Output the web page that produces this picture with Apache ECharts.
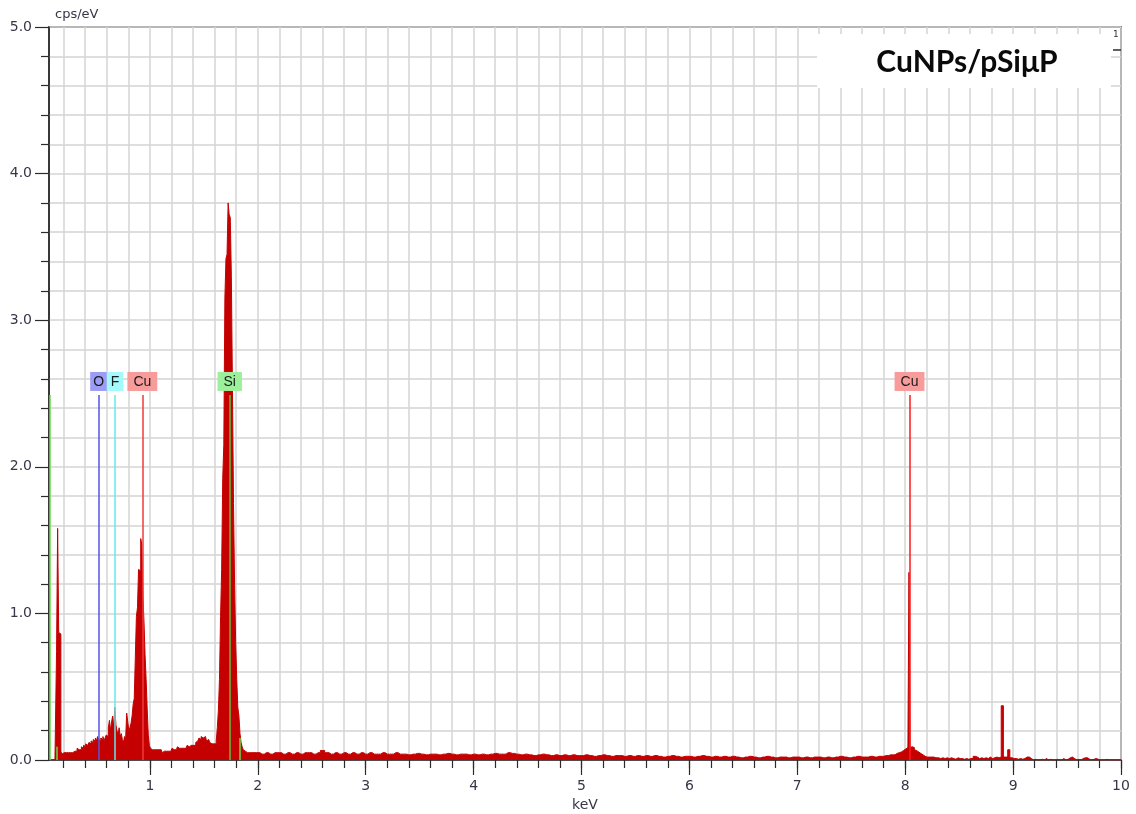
<!DOCTYPE html>
<html><head><meta charset="utf-8">
<script src="https://cdn.jsdelivr.net/npm/echarts@6/dist/echarts.min.js"></script>
<style>html,body{margin:0;padding:0;background:#fff}#c{width:1136px;height:814px}</style>
</head><body><div id="c"></div>
<script>
// ---------------- data (cps/eV per channel) ----------------
const lowStart = 0.10, lowStep = 0.01;   // 0.10 .. 1.99 keV
const lowValues = [
  0,0,0,0,0.74,1.58,0.87,0.86,0.06,0.04,
  0.05,0.06,0.05,0.06,0.05,0.06,0.05,0.04,0.05,0.06,
  0.06,0.07,0.06,0.08,0.07,0.08,0.07,0.09,0.08,0.10,
  0.09,0.11,0.10,0.11,0.12,0.11,0.13,0.12,0.14,0.13,
  0.15,0.13,0.16,0.14,0.13,0.15,0.14,0.16,0.13,0.15,
  0.17,0.16,0.22,0.27,0.20,0.26,0.30,0.22,0.36,0.24,
  0.20,0.17,0.22,0.16,0.18,0.14,0.12,0.16,0.14,0.32,
  0.26,0.20,0.22,0.25,0.30,0.38,0.42,0.70,0.98,1.04,
  1.30,1.29,1.51,1.47,1.12,0.95,0.72,0.55,0.35,0.17,
  0.10,0.08,0.07,0.06,0.07,0.06,0.07,0.06,0.07,0.06,
  0.07,0.06,0.05,0.06,0.07,0.06,0.05,0.06,0.07,0.06,
  0.07,0.08,0.07,0.08,0.07,0.08,0.09,0.08,0.07,0.08,
  0.09,0.08,0.09,0.08,0.09,0.10,0.09,0.08,0.10,0.09,
  0.10,0.11,0.10,0.12,0.13,0.14,0.15,0.14,0.16,0.15,
  0.14,0.16,0.15,0.13,0.14,0.15,0.12,0.11,0.10,0.11,
  0.10,0.11,0.13,0.22,0.34,0.55,0.98,1.30,1.92,2.15,
  3.15,3.42,3.45,3.80,3.72,3.70,3.30,2.55,1.75,1.20,
  0.80,0.55,0.36,0.30,0.18,0.12,0.09,0.07,0.06,0.05,
  0.05,0.04,0.05,0.04,0.05,0.04,0.05,0.04,0.05,0.04
];
const midStart = 2.00, midStep = 0.04;   // 2.00 .. 7.76 keV
const midValues = [
  0.05,0.04,0.05,0.04,0.05,0.05,0.04,0.05,0.04,0.05,0.04,0.05,0.05,0.04,0.05,0.065,0.05,0.04,0.05,0.04,0.05,0.04,0.05,0.04,0.05,
  0.04,0.05,0.04,0.04,0.05,0.04,0.04,0.05,0.04,0.04,0.035,0.04,0.045,0.04,0.035,0.04,0.04,0.035,0.04,0.045,0.04,0.035,0.04,0.04,0.035,
  0.04,0.035,0.04,0.035,0.04,0.045,0.04,0.04,0.05,0.045,0.04,0.035,0.04,0.035,0.03,0.035,0.04,0.035,0.03,0.035,0.03,0.035,0.03,0.035,0.03,
  0.03,0.035,0.03,0.025,0.03,0.035,0.03,0.025,0.03,0.03,0.025,0.03,0.025,0.03,0.025,0.03,0.025,0.03,0.025,0.02,0.025,0.03,0.025,0.02,0.025,
  0.025,0.02,0.025,0.03,0.025,0.02,0.025,0.02,0.025,0.02,0.025,0.02,0.015,0.02,0.025,0.02,0.015,0.02,0.025,0.02,0.015,0.02,0.02,0.015,0.02,
  0.02,0.015,0.02,0.015,0.02,0.02,0.015,0.02,0.015,0.02,0.025,0.02,0.015,0.02,0.025,0.02,0.02,0.025,0.02,0.025
];
const cuKStart = 7.80, cuKStep = 0.01;   // 7.80 .. 8.30 keV
const cuKValues = [
  0.025,0.02,0.03,0.025,0.03,0.03,0.035,0.03,0.035,0.04,
  0.035,0.04,0.045,0.04,0.05,0.045,0.055,0.06,0.065,0.07,
  0.075,0.08,0.085,0.09,1.28,0.085,0.09,0.08,0.085,0.07,
  0.065,0.06,0.055,0.05,0.045,0.04,0.035,0.03,0.025,0.03,
  0.02,0.025,0.02,0.015,0.02,0.015,0.02,0.01,0.015,0.01,0.015
];
const highStart = 8.32, highStep = 0.02; // 8.32 .. 10.00 keV
const highValues = [
  0.01,0.015,0.01,0.015,0.01,0.015,0.01,0.005,0.015,0.01,
  0.01,0.005,0.01,0.005,0.01,0.01,0.025,0.02,0.01,0.015,
  0.01,0.015,0.01,0.02,0.01,0.015,0.02,0.015,0.02,0.37,
  0.02,0.02,0.07,0.015,0.01,0.01,0.005,0.01,0.005,0.01,
  0.02,0.02,0.01,0,0.005,0,0,0.005,0,0.01,
  0,0.005,0,0,0.005,0,0,0.01,0,0.005,
  0.015,0.02,0.01,0,0.005,0,0.01,0.015,0.015,0.005,
  0,0.005,0.01,0.005,0,0,0,0.005,0,0,
  0,0,0,0,0
];

// element markers
const elementNames    = ['O', 'F', 'Cu', 'Si', 'Cu'];
const elementEnergies = [0.525, 0.677, 0.93, 1.74, 8.04];
const elementBoxColors  = ['#9c9cf6', '#a4fafa', '#f79b9b', '#9cf09c', '#f79b9b'];
const elementLineColors = ['#5555e6', '#66e8e8', '#f03a3a', '#5fbf3a', '#ff1a1a'];
const markerHeight = 2.49;
// unlabelled markers
const extraMarkerEnergies = [0.075, 0.135, 1.83];
const extraMarkerHeights  = [2.49, 0.09, 0.15];

// axis ticks / labels
const xTickLabels = [1, 2, 3, 4, 5, 6, 7, 8, 9, 10];
const yTickLabels = [0, 1, 2, 3, 4, 5];
const xMin = 0.065, xMax = 10, yMin = 0, yMax = 5;

// ---------------- build ----------------
function seg(start, step, vals) {
  return vals.map((v, i) => [+(start + i * step).toFixed(3), v]);
}
const spectrum = [].concat(
  seg(lowStart, lowStep, lowValues),
  seg(midStart, midStep, midValues),
  seg(cuKStart, cuKStep, cuKValues),
  seg(highStart, highStep, highValues)
).filter(p => p[0] <= xMax);

const xMinorTicks = [];
for (let k = 1; k <= 50; k++) xMinorTicks.push(+(k * 0.2).toFixed(1));

const paddings = [[2,3,1,3],[2,4,1,4],[2,6,1,6],[2,6,1,6],[2,6,1,6]];
const markLines = elementNames.map((n, i) => [
  { coord: [elementEnergies[i], 0],
    lineStyle: { color: elementLineColors[i], width: 1.5, type: 'solid' },
    label: { show: true, position: 'end', formatter: n, distance: 4,
             backgroundColor: elementBoxColors[i], padding: paddings[i],
             color: '#1a1a1a', fontSize: 14, lineHeight: 16,
             fontFamily: 'Liberation Sans, Arial, sans-serif' } },
  { coord: [elementEnergies[i], markerHeight] }
]).concat(extraMarkerEnergies.map((e, i) => [
  { coord: [e, 0], lineStyle: { color: '#66dd44', width: 1.5, type: 'solid' }, label: { show: false } },
  { coord: [e, extraMarkerHeights[i]] }
]));

const axisFont = { fontFamily: 'DejaVu Sans, sans-serif', fontSize: 14, color: '#363648' };
const dark = '#2b2b2b';
const gridGrey = '#d4d4d4';

const chart = echarts.init(document.getElementById('c'), null, { renderer: 'canvas' });
chart.setOption({
  animation: false,
  backgroundColor: '#fff',
  grid: { left: 49, right: 15, top: 27, bottom: 54, show: true, outerBoundsMode: 'none', containLabel: false,
          borderColor: dark, borderWidth: 1.5, backgroundColor: 'transparent' },
  xAxis: [
    { type: 'value', min: xMin, max: xMax, position: 'bottom',
      name: 'keV', nameLocation: 'middle', nameGap: 38,
      nameTextStyle: axisFont,
      axisLine: { show: true, lineStyle: { color: dark, width: 1.5 } },
      axisTick: { show: true, customValues: xMinorTicks, length: 8, lineStyle: { color: dark, width: 1.2 } },
      axisLabel: { show: true, customValues: xTickLabels, margin: 19, ...axisFont,
                   formatter: v => String(Math.round(v)) },
      splitLine: { show: true, lineStyle: { color: gridGrey, width: 1.5 } } },
    { type: 'value', min: xMin, max: xMax, position: 'bottom',
      axisLine: { show: false },
      axisTick: { show: true, customValues: xTickLabels, length: 15, lineStyle: { color: dark, width: 1.2 } },
      axisLabel: { show: false },
      splitLine: { show: false } }
  ],
  yAxis: {
    type: 'value', min: yMin, max: yMax, interval: 1,
    axisLine: { show: true, lineStyle: { color: dark, width: 1.5 } },
    axisTick: { show: true, length: 14, lineStyle: { color: dark, width: 1.2 } },
    minorTick: { show: true, splitNumber: 5, length: 8, lineStyle: { color: dark, width: 1.2 } },
    axisLabel: { margin: 17, ...axisFont,
                 formatter: v => yTickLabels.indexOf(v) >= 0 ? v.toFixed(1) : '' },
    splitLine: { show: true, lineStyle: { color: gridGrey, width: 1.5 } },
    minorSplitLine: { show: true, lineStyle: { color: gridGrey, width: 1.5 } }
  },
  graphic: [
    { type: 'text', left: 55, top: 8, z: 100,
      style: { text: 'cps/eV', fontFamily: 'DejaVu Sans, sans-serif', fontSize: 13, fill: '#363648' } },
    { type: 'rect', shape: { x: 817, y: 34, width: 294, height: 54 }, z: 100,
      style: { fill: '#ffffff' } },
    { type: 'text', x: 967, y: 62, z: 101,
      style: { text: 'CuNPs/pSiμP', fontFamily: 'Lato, sans-serif', fontWeight: 'bold',
               fontSize: 30, fill: '#0a0a0a', align: 'center', verticalAlign: 'middle' } },
    { type: 'text', x: 1113, y: 30, z: 101,
      style: { text: '1', fontFamily: 'DejaVu Sans, sans-serif', fontSize: 9, fill: '#333' } },
    { type: 'line', shape: { x1: 1113, y1: 50, x2: 1121, y2: 50 }, z: 101,
      style: { stroke: dark, lineWidth: 1.5 } }
  ],
  series: [
    { type: 'line', name: 'spectrum', data: spectrum, step: 'middle',
      showSymbol: false, symbol: 'none', z: 2,
      lineStyle: { color: '#c40000', width: 1 },
      areaStyle: { color: '#c40000', opacity: 1 } },
    { type: 'line', name: 'markers', data: [], z: 3,
      markLine: { silent: true, symbol: ['none', 'none'], animation: false, z: 5,
                  precision: 3, data: markLines } }
  ]
});
</script></body></html>
